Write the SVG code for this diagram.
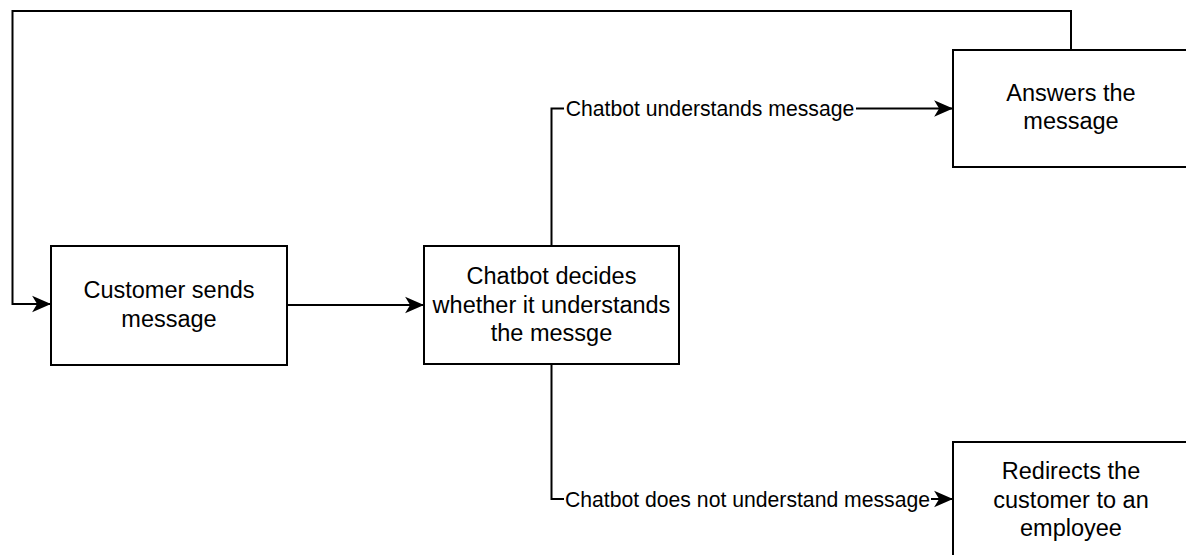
<svg xmlns="http://www.w3.org/2000/svg" width="1186" height="555" viewBox="0 0 1186 555">
<style>
.node rect{fill:#fff;stroke:#000;stroke-width:2}
.node text{font-family:"Liberation Sans",Arial,Helvetica,sans-serif;font-size:23.5px;fill:#000;text-anchor:middle}
.edge{fill:none;stroke:#000;stroke-width:2}
.lbl{font-family:"Liberation Sans",Arial,Helvetica,sans-serif;font-size:21.2px;fill:#000;text-anchor:middle}
.lblbg{fill:#fff;stroke:none}
</style>
<defs>
<marker id="arr" markerUnits="userSpaceOnUse" markerWidth="20" markerHeight="18" viewBox="-17 -8 18 16" refX="0" refY="0" orient="auto">
<path d="M0,0 L-17,-7.5 L-12.5,0 L-17,7.5 Z" fill="#000" stroke="none"/>
</marker>
</defs>
<rect width="1186" height="555" fill="#fff"/>
<g id="connectors">
<path class="edge" d="M1071,50 L1071,11 L12.5,11 L12.5,304 L51,304" marker-end="url(#arr)"/>
<path class="edge" d="M287,305 L424,305" marker-end="url(#arr)"/>
<path class="edge" d="M551.5,246 L551.5,108.5 L953,108.5" marker-end="url(#arr)"/>
<path class="edge" d="M551.5,364 L551.5,499 L953,499" marker-end="url(#arr)"/>
<g id="label-understands">
<rect class="lblbg" x="564" y="97" width="292" height="24"/>
<text class="lbl" x="710" y="116">Chatbot understands message</text>
</g>
<g id="label-not-understands">
<rect class="lblbg" x="564" y="488" width="367" height="24"/>
<text class="lbl" x="747.5" y="507">Chatbot does not understand message</text>
</g>
</g>
<g id="customer" class="node">
<rect x="51" y="246" width="236" height="119"/>
<text x="169" y="298">Customer sends</text>
<text x="169" y="326.5">message</text>
</g>
<g id="chatbot" class="node">
<rect x="424" y="246" width="255" height="118"/>
<text x="551.5" y="284.3">Chatbot decides</text>
<text x="551.5" y="312.5">whether it understands</text>
<text x="551.5" y="340.7">the messge</text>
</g>
<g id="answers" class="node">
<rect x="953" y="50" width="236" height="117"/>
<text x="1071" y="100.7">Answers the</text>
<text x="1071" y="129">message</text>
</g>
<g id="redirects" class="node">
<rect x="953" y="442" width="236" height="117"/>
<text x="1071" y="479.3">Redirects the</text>
<text x="1071" y="507.5">customer to an</text>
<text x="1071" y="535.7">employee</text>
</g>
</svg>
